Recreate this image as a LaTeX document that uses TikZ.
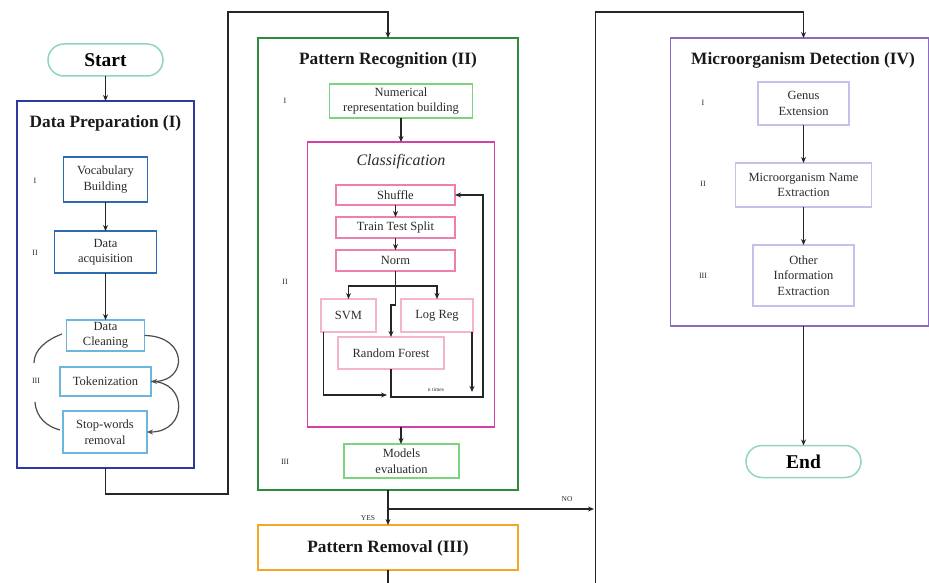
\documentclass[tikz,border=0pt]{standalone}
\usepackage{fontspec}
\setmainfont{Liberation Serif}
\usetikzlibrary{arrows.meta}
\definecolor{mint}{HTML}{8FD6BD}
\definecolor{dpblue}{HTML}{2E3A9F}
\definecolor{vbblue}{HTML}{2D6BB0}
\definecolor{ltblue}{HTML}{6BB5E0}
\definecolor{prgreen}{HTML}{2E8B3E}
\definecolor{ltgreen}{HTML}{7ED37E}
\definecolor{magent}{HTML}{D63FA8}
\definecolor{pinkc}{HTML}{EE7FAF}
\definecolor{ltpink}{HTML}{F5B5C8}
\definecolor{orangec}{HTML}{F5A623}
\definecolor{purplec}{HTML}{8C6BC0}
\definecolor{lavender}{HTML}{C9BFEA}
\definecolor{txt}{HTML}{2B2B2B}
\begin{document}
\begin{tikzpicture}[x=1pt,y=-1pt,
  every node/.style={inner sep=0pt,outer sep=0pt},
  arr/.style={draw=black!85,line width=1.2pt,-{Stealth[length=6pt,width=5pt]}},
  ln/.style={draw=black!85,line width=1.2pt},
  term/.style={draw=mint,line width=1.5pt,rounded corners=16pt,minimum width=115pt,minimum height=32pt,font=\fontsize{19.5}{22}\selectfont\bfseries},
  bigbox/.style={draw,line width=1.5pt,rectangle},
  ttl/.style={font=\fontsize{17.3}{20}\selectfont\bfseries,text=black!90},
  item/.style={draw,line width=1.2pt,rectangle,align=center,text=txt,font=\fontsize{12.5}{15.5}\selectfont},
  num/.style={font=\fontsize{8}{9}\selectfont,text=txt},
  tiny/.style={font=\fontsize{7.5}{9}\selectfont,text=txt}]
\useasboundingbox (0,0) rectangle (929,583);
% ---------- Column I ----------
\node[term] (start) at (105.5,60) {Start};
\node[bigbox,draw=dpblue,minimum width=177pt,minimum height=367pt] (dp) at (105.5,284.5) {};
\node[ttl] (dpt) at (105.5,123) {Data Preparation (I)};
\node[item,draw=vbblue,minimum width=84pt,minimum height=45pt] (vb) at (105.5,179.5) {Vocabulary\\Building};
\node[item,draw=vbblue,minimum width=102pt,minimum height=42pt] (da) at (105.5,252) {Data\\acquisition};
\node[item,draw=ltblue,minimum width=78pt,minimum height=31pt] (dc) at (105.5,335.5) {Data\\Cleaning};
\node[item,draw=ltblue,minimum width=91pt,minimum height=29pt] (tok) at (105.5,381.5) {Tokenization};
\node[item,draw=ltblue,minimum width=84pt,minimum height=42pt] (sw) at (105,432) {Stop-words\\removal};
\node[num] (l1) at (35,181) {I};
\node[num] (l2) at (35,253) {II};
\node[num] (l3) at (36,381) {III};
\draw[arr] (start.south) -- (dp.north);
\draw[arr] (vb.south) -- (da.north);
\draw[arr] (da.south) -- (dc.north);
\draw[arr,draw=black!70] (dc.east) .. controls (188,336) and (188,381) .. (tok.east);
\draw[arr,draw=black!70] (tok.east) .. controls (188,381) and (188,432) .. (sw.east);
\draw[ln,draw=black!70] (62,334) .. controls (46,340) and (34,350) .. (34,363);
\draw[ln,draw=black!70] (35,402) .. controls (36,418) and (48,427) .. (60,430);
% ---------- Column II ----------
\node[bigbox,draw=prgreen,minimum width=260pt,minimum height=452pt] (pr) at (388,264) {};
\node[ttl] (prt) at (388,60) {Pattern Recognition (II)};
\node[item,draw=ltgreen,minimum width=143pt,minimum height=34pt] (nrb) at (401,101) {Numerical\\representation building};
\node[bigbox,draw=magent,minimum width=187pt,minimum height=285pt] (cls) at (401,284.5) {};
\node[font=\fontsize{16}{18}\selectfont\itshape,text=txt] (clst) at (401,162) {Classification};
\node[item,draw=pinkc,minimum width=119pt,minimum height=20pt] (shuf) at (395.5,195) {Shuffle};
\node[item,draw=pinkc,minimum width=119pt,minimum height=21pt] (tts) at (395.5,227.5) {Train Test Split};
\node[item,draw=pinkc,minimum width=119pt,minimum height=21pt] (norm) at (395.5,260.5) {Norm};
\node[item,draw=ltpink,minimum width=55pt,minimum height=33pt] (svm) at (348.5,315.5) {SVM};
\node[item,draw=ltpink,minimum width=72pt,minimum height=33pt] (lr) at (437,315.5) {Log Reg};
\node[item,draw=ltpink,minimum width=106pt,minimum height=32pt] (rf) at (391,353) {Random Forest};
\node[item,draw=ltgreen,minimum width=115pt,minimum height=34pt] (me) at (401.5,461) {Models\\evaluation};
\node[num] (p1) at (285,101) {I};
\node[num] (p2) at (285,282) {II};
\node[num] (p3) at (285,462) {III};
\node[font=\fontsize{5.5}{6}\selectfont,text=txt] (nt) at (436,390) {n times};
\draw[arr] (nrb.south) -- (cls.north);
\draw[arr] (shuf.south) -- (tts.north);
\draw[arr] (tts.south) -- (norm.north);
\coordinate (nb) at (395.5,286);
\coordinate (nr) at (395.5,305);
\draw[ln] (norm.south) -- (nr);
\draw[arr] (nb) -| (svm.north);
\draw[arr] (nb) -| (lr.north);
\draw[arr] (nr) -| (rf.north);
\coordinate (s1) at (323.5,395);
\coordinate (s2) at (387,395);
\draw[arr] (svm.south -| s1) -- (s1) -- (s2);
\coordinate (r1) at (391,397);
\coordinate (r2) at (483,397);
\draw[arr] (rf.south) -- (r1) -- (r2) |- (shuf.east);
\coordinate (g1) at (472,392);
\draw[arr] (lr.south -| g1) -- (g1);
\draw[arr] (cls.south) -- (me.north -| cls.south);
% ---------- Column III ----------
\node[bigbox,draw=orangec,minimum width=260pt,minimum height=45pt] (prm) at (388,547.5) {};
\node[ttl] (prmt) at (388,548) {Pattern Removal (III)};
\coordinate (br) at (388,509);
\coordinate (nob) at (594,509);
\draw[arr] (pr.south) -- (prm.north);
\draw[arr] (br) -- (nob);
\node[tiny] (yes) at (368,518) {YES};
\node[tiny] (no) at (567,499) {NO};
\coordinate (bot) at (388,583);
\draw[ln] (prm.south) -- (bot);
% ---------- Column IV ----------
\node[bigbox,draw=purplec,minimum width=258pt,minimum height=288pt] (md) at (799.5,182) {};
\node[ttl] (mdt) at (803,60) {Microorganism Detection (IV)};
\node[item,draw=lavender,minimum width=91pt,minimum height=43pt] (ge) at (803.5,103.5) {Genus\\Extension};
\node[item,draw=lavender,minimum width=136pt,minimum height=44pt] (mne) at (803.5,185) {Microorganism Name\\Extraction};
\node[item,draw=lavender,minimum width=101pt,minimum height=61pt] (oie) at (803.5,275.5) {Other\\Information\\Extraction};
\node[num] (m1) at (703,103) {I};
\node[num] (m2) at (703,184) {II};
\node[num] (m3) at (703,276) {III};
\node[term] (end) at (803.5,461.5) {End};
\draw[arr] (ge.south) -- (mne.north);
\draw[arr] (mne.south) -- (oie.north);
\draw[arr] (md.south -| end) -- (end.north);
% ---------- long connectors ----------
\coordinate (c0) at (105.5,494);
\coordinate (c1) at (228,494);
\coordinate (c2) at (228,12);
\draw[arr] (dp.south) -- (c0) -- (c1) -- (c2) -| (pr.north);
\coordinate (v0) at (595.5,583);
\coordinate (v1) at (595.5,12);
\draw[arr] (v0) -- (v1) -| (md.north -| end);
\end{tikzpicture}
\end{document}
